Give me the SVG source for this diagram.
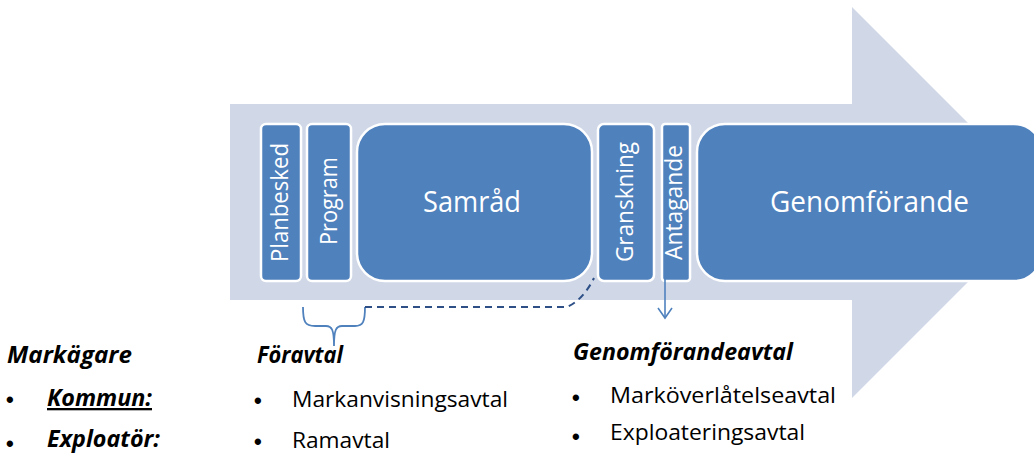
<svg xmlns="http://www.w3.org/2000/svg" width="1034" height="454" viewBox="0 0 1034 454">
<style>
.box{fill:#4F81BD;stroke:#FFFFFF;stroke-width:2.5}
.bt{font-family:"Open Sans","Liberation Sans",sans-serif;fill:#FFFFFF;text-anchor:middle}
.vt{font-size:23px}
.big{font-size:29px}
.tx{font-family:"Open Sans","Liberation Sans",sans-serif;font-size:22px;fill:#000000}
.hd{font-weight:bold;font-style:italic;font-size:23px}
.bul{font-family:"Liberation Sans",sans-serif;font-size:22px;font-weight:bold;fill:#000000}
</style>
<rect width="1034" height="454" fill="#FFFFFF"/>
<polygon id="arrow" points="230,104 852,104 852,7 1047.5,202.5 852,398 852,300 230,300" fill="#D0D8E8"/>
<g id="planbesked"><rect class="box" x="261" y="124" width="40" height="157" rx="5"/><text class="bt vt" transform="translate(288,202.5) rotate(-90)" textLength="119" lengthAdjust="spacingAndGlyphs">Planbesked</text></g>
<g id="program"><rect class="box" x="307" y="124" width="44" height="157" rx="5"/><text class="bt vt" transform="translate(337,201) rotate(-90)" textLength="88" lengthAdjust="spacingAndGlyphs">Program</text></g>
<g id="samrad"><rect class="box" x="357" y="124" width="235" height="157" rx="28"/><text class="bt big" x="472" y="212" textLength="98" lengthAdjust="spacingAndGlyphs">Samråd</text></g>
<g id="granskning"><rect class="box" x="598" y="124" width="56" height="157" rx="6"/><text class="bt vt" transform="translate(633,202) rotate(-90)" textLength="120" lengthAdjust="spacingAndGlyphs">Granskning</text></g>
<g id="antagande"><rect class="box" x="662" y="124" width="28" height="157" rx="3"/><text class="bt vt" transform="translate(682,202.5) rotate(-90)" textLength="115" lengthAdjust="spacingAndGlyphs">Antagande</text></g>
<g id="genomforande"><rect class="box" x="697" y="124" width="345" height="157" rx="28"/><text class="bt big" x="869.5" y="212" textLength="199" lengthAdjust="spacingAndGlyphs">Genomförande</text></g>
<g id="connectors" fill="none">
<path d="M303,307 C303,322 305,326 315,326 L326,326 C332,326 334,330 334,346 C334,330 336,326 342,326 L355,326 C363,326 365,322 365,307" stroke="#4F81BD" stroke-width="1.8"/>
<path d="M365,307 L567,307 Q583,300 594,278" stroke="#2E5087" stroke-width="2" stroke-dasharray="7 5"/>
<path d="M665,276 L665,318" stroke="#4F81BD" stroke-width="1.6"/>
<path d="M658,308 L665,318 L672,308" stroke="#4F81BD" stroke-width="1.6"/>
</g>
<g id="markagare">
<text class="tx hd" x="7" y="363" textLength="125" lengthAdjust="spacingAndGlyphs">Markägare</text>
<text class="bul" x="6" y="407">•</text>
<text class="tx hd" x="47" y="406" text-decoration="underline" textLength="105" lengthAdjust="spacingAndGlyphs">Kommun:</text>
<text class="bul" x="6" y="451">•</text>
<text class="tx hd" x="47" y="447" textLength="113" lengthAdjust="spacingAndGlyphs">Exploatör:</text>
</g>
<g id="foravtal">
<text class="tx hd" x="257" y="363" textLength="86" lengthAdjust="spacingAndGlyphs">Föravtal</text>
<text class="bul" x="254" y="408">•</text>
<text class="tx" x="292" y="407" textLength="216" lengthAdjust="spacingAndGlyphs">Markanvisningsavtal</text>
<text class="bul" x="254" y="449">•</text>
<text class="tx" x="292" y="448" textLength="98" lengthAdjust="spacingAndGlyphs">Ramavtal</text>
</g>
<g id="genomforandeavtal">
<text class="tx hd" x="573" y="360" textLength="220" lengthAdjust="spacingAndGlyphs">Genomförandeavtal</text>
<text class="bul" x="572" y="405">•</text>
<text class="tx" x="610" y="403" textLength="226" lengthAdjust="spacingAndGlyphs">Marköverlåtelseavtal</text>
<text class="bul" x="572" y="444">•</text>
<text class="tx" x="610" y="440" textLength="195" lengthAdjust="spacingAndGlyphs">Exploateringsavtal</text>
</g>
</svg>
